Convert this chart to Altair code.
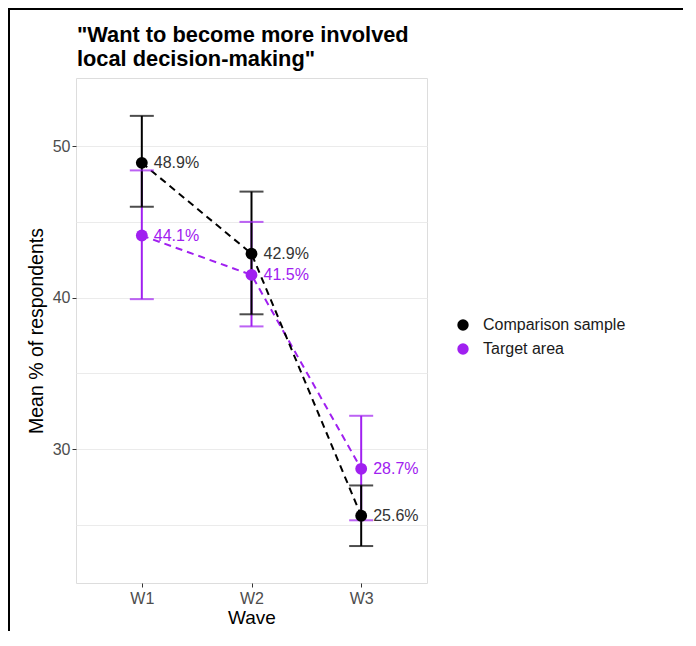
import altair as alt
import pandas as pd

waves = ["W1", "W2", "W3"]
groups = ["Comparison sample", "Target area"]
comparison_mean = [48.9, 42.9, 25.6]
comparison_low = [46.0, 38.9, 23.6]
comparison_high = [52.0, 47.0, 27.6]
target_mean = [44.1, 41.5, 28.7]
target_low = [39.9, 38.1, 25.3]
target_high = [48.4, 45.0, 32.2]
y_ticks = [25, 30, 35, 40, 45, 50]
title_lines = ['"Want to become more involved', 'local decision-making"']

rows = []
# target drawn first so the comparison series sits on top, as in the reference
for g, m, lo, hi in [(groups[1], target_mean, target_low, target_high),
                     (groups[0], comparison_mean, comparison_low, comparison_high)]:
    for w, mv, lv, hv in zip(waves, m, lo, hi):
        rows.append({"wave": w, "group": g, "mean": mv, "low": lv, "high": hv,
                     "label": f"{mv:.1f}%"})
df = pd.DataFrame(rows)

FONT = "Liberation Sans"
PURPLE = "#A020F0"

x = alt.X("wave:N", sort=waves, title="Wave",
          scale=alt.Scale(type="point", padding=0.6),
          axis=alt.Axis(labelAngle=0, labelFontSize=16, labelColor="#4D4D4D",
                        titleFontSize=19, titleColor="black", titleFontWeight="normal",
                        tickColor="#333333", tickSize=4, labelPadding=3, titlePadding=2,
                        gridColor="#EBEBEB", domain=False, labelFont=FONT, titleFont=FONT))
yscale = alt.Scale(domain=[21.16, 54.5], nice=False, zero=False)
yaxis = alt.Axis(values=y_ticks, labelExpr="datum.value % 10 == 0 ? datum.label : ''",
                 labelFontSize=16, labelColor="#4D4D4D", titleFontSize=19.5,
                 titleColor="black", titleFontWeight="normal", titlePadding=6,
                 tickColor={"condition": {"test": "datum.value % 10 != 0", "value": "rgba(0,0,0,0)"},
                            "value": "#333333"},
                 tickSize=4, labelPadding=2, gridColor="#EBEBEB", domain=False,
                 labelFont=FONT, titleFont=FONT)
cscale = alt.Scale(domain=groups, range=["black", PURPLE])
color_nl = alt.Color("group:N", scale=cscale, legend=None)

base = alt.Chart(df)

lines = base.mark_line(strokeDash=[7, 5], strokeWidth=2).encode(
    x=x, y=alt.Y("mean:Q", scale=yscale, axis=yaxis, title="Mean % of respondents"),
    color=color_nl, detail="group:N")

bars = base.mark_rule(strokeWidth=2).encode(
    x=x, y=alt.Y("low:Q", scale=yscale), y2="high:Q", color=color_nl)
caps_lo = base.mark_tick(size=24, thickness=2).encode(
    x=x, y=alt.Y("low:Q", scale=yscale), color=color_nl)
caps_hi = base.mark_tick(size=24, thickness=2).encode(
    x=x, y=alt.Y("high:Q", scale=yscale), color=color_nl)

points = base.mark_point(filled=True, size=140, opacity=1).encode(
    x=x, y=alt.Y("mean:Q", scale=yscale),
    color=alt.Color("group:N", scale=cscale,
                    legend=alt.Legend(title=None, orient="none", legendX=379, legendY=239,
                                      labelFontSize=16, labelColor="#1A1A1A", labelFont=FONT,
                                      symbolSize=130, symbolType="circle", rowPadding=8,
                                      labelOffset=12, symbolStrokeWidth=0)))

labels = base.mark_text(align="left", baseline="middle", dx=12, fontSize=16, font=FONT).encode(
    x=x, y=alt.Y("mean:Q", scale=yscale), text="label:N",
    color=alt.condition(alt.datum.group == groups[0], alt.value("#333333"), alt.value(PURPLE)))

one = pd.DataFrame({"k": [0]})
title_mark = alt.Chart(one).mark_text(
    align="left", baseline="alphabetic", fontSize=21.8, fontWeight="bold", font=FONT,
    color="black", lineBreak="\n", lineHeight=24).encode(
    x=alt.value(1), y=alt.value(-36), text=alt.value("\n".join(title_lines)))

frame_top = alt.Chart(one).mark_rule(color="black", strokeWidth=2).encode(
    x=alt.value(-67), x2=alt.value(610), y=alt.value(-69))
frame_left = alt.Chart(one).mark_rule(color="black", strokeWidth=2).encode(
    x=alt.value(-67), y=alt.value(-70), y2=alt.value(560))

chart = alt.layer(lines, bars, caps_lo, caps_hi, points, labels,
                  title_mark, frame_top, frame_left).resolve_legend(color="independent").properties(
    width=351, height=505,
    padding={"left": 68, "top": 70, "right": 256, "bottom": 48},
    autosize=alt.AutoSizeParams(type="none"),
).configure_view(stroke="#4D4D4D", strokeWidth=1).configure(background="white")

chart.save("out.html", embed_options={"renderer": "svg", "actions": False})
